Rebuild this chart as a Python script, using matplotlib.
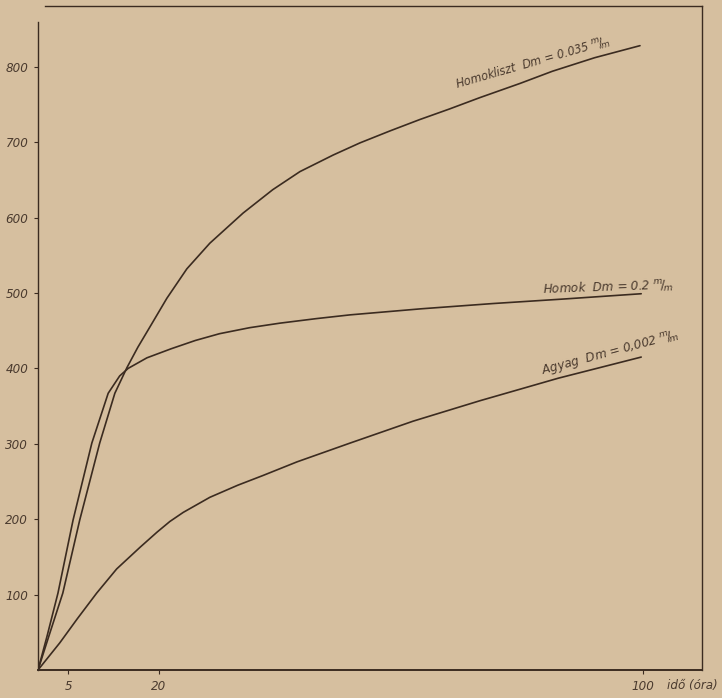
import matplotlib
matplotlib.use('Agg')
import matplotlib.pyplot as plt

# 그래프 데이터 (시간: óra, 값) - 그림에서 읽은 값
homokliszt_h = [0, 2, 4.1, 6.9, 10.2, 12.7, 14.7, 16.5, 18.5, 21.3, 24.6, 28.4, 33.9, 38.8, 43.3,
                48.8, 53.2, 58.2, 63.1, 68, 73, 79.7, 85, 92, 99.5]
homokliszt_v = [0, 50, 102, 199, 301, 367, 401, 428, 455, 493, 532, 566, 606, 637, 661,
                683, 699, 715, 730, 744, 759, 778, 794, 812, 828]

homok_h = [0, 1.5, 3.3, 5.8, 8.9, 11.6, 13.5, 14.9, 18, 22, 26, 30, 35, 40, 46, 51.6,
           63.3, 75.2, 86.9, 99.7]
homok_v = [0, 45, 102, 199, 301, 367, 390, 400, 414, 426, 437, 446, 454, 460, 466, 471,
           479, 486, 492, 499]

agyag_h = [0, 3.6, 6.5, 9.7, 13, 16.9, 19.7, 21.8, 24, 28.4, 33, 37.2, 42.8, 51.6, 62,
           73, 86, 99.7]
agyag_v = [0, 36, 68, 102, 134, 163, 183, 197, 209, 229, 245, 258, 276, 301, 330,
           357, 387, 415]

y_ticks = [100, 200, 300, 400, 500, 600, 700, 800]
x_ticks = [5, 20, 100]
x_labels = ['5', '20', '100']

bg = '#d6bf9f'   # 종이 색
ink = '#3b2b20'  # 선 색
txt = '#4a3a2e'  # 글자 색

plt.rcParams['font.family'] = ['DejaVu Sans']

fig = plt.figure(figsize=(7.22, 6.98), dpi=100, facecolor=bg)
ax = fig.add_axes([38/722, 28/698, 664/722, 664/698], facecolor=bg)

for h, v in [(homokliszt_h, homokliszt_v), (homok_h, homok_v), (agyag_h, agyag_v)]:
    ax.plot(h, v, color=ink, lw=1.2, solid_joinstyle='round', solid_capstyle='round')

ax.set_xlim(0, 109.75)
ax.set_ylim(0, 880.6)

# 축 스타일
for s in ax.spines.values():
    s.set_color(ink)
    s.set_linewidth(1.0)
ax.spines['bottom'].set_linewidth(1.4)
ax.spines['left'].set_bounds(0, 860)
ax.spines['top'].set_bounds(1.2, 109.75)

ax.set_yticks(y_ticks)
ax.set_yticklabels([str(t) for t in y_ticks], style='italic', color=txt, fontsize=9.5,
                   fontstretch='condensed')
ax.set_xticks(x_ticks)
ax.set_xticklabels(x_labels, style='italic', color=txt, fontsize=9.5, fontstretch='condensed')
ax.tick_params(axis='both', direction='out', length=3, width=0.8, color=ink, pad=4)

ax.text(104, -12, 'idő (óra)', style='italic', color=txt, fontsize=9.5, ha='left', va='top',
        fontstretch='condensed')

# 곡선 라벨
lab = dict(style='italic', color=txt, fontstretch='condensed', rotation_mode='anchor',
           va='baseline')
ax.text(82, 800, r'Homokliszt  Dm = 0.035 $^{m}\!/\!_{m}$', rotation=16, fontsize=9,
        ha='center', **lab)
ax.text(105, 505, r'Homok  Dm = 0.2 $^{m}\!/\!_{m}$', rotation=2, fontsize=9.5,
        ha='right', **lab)
ax.text(94.7, 415, r'Agyag  Dm = 0,002 $^{m}\!/\!_{m}$', rotation=15, fontsize=9.5,
        ha='center', **lab)

fig.savefig('out.png', dpi=100, facecolor=bg)
